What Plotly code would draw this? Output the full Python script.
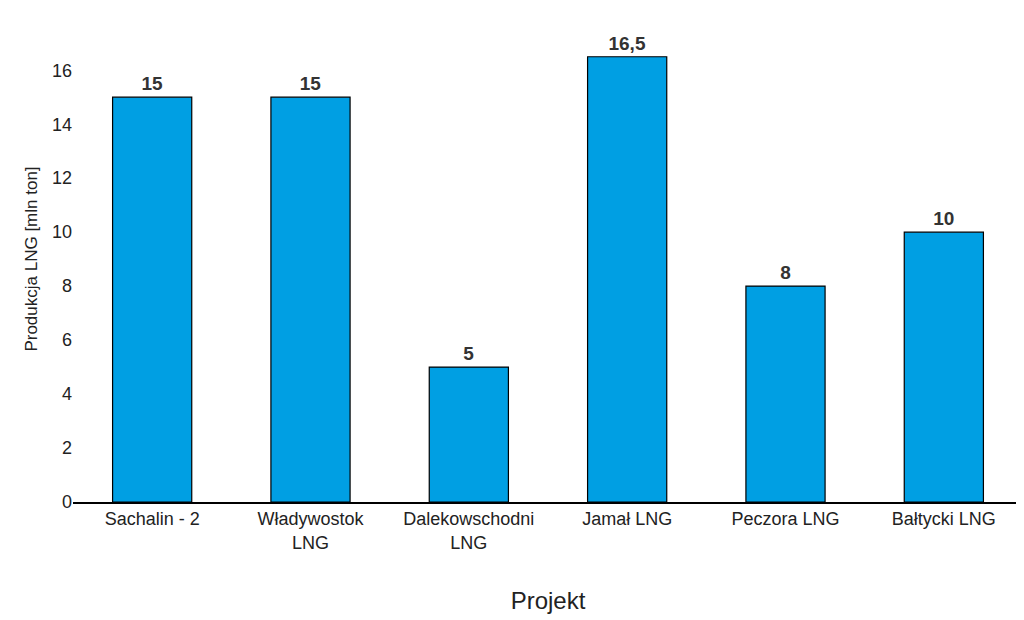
import plotly.graph_objects as go

projects = ["Sachalin - 2", "Władywostok<br>LNG", "Dalekowschodni<br>LNG", "Jamał LNG", "Peczora LNG", "Bałtycki LNG"]
production = [15, 15, 5, 16.5, 8, 10]
labels = ["15", "15", "5", "16,5", "8", "10"]
y_ticks = [0, 2, 4, 6, 8, 10, 12, 14, 16, 18]

fig = go.Figure(
    go.Bar(
        x=projects,
        y=production,
        text=labels,
        textposition="outside",
        textfont={"size": 19, "color": "#333333", "family": "Liberation Sans"},
        texttemplate="<b>%{text}</b>",
        marker={"color": "#009fe3", "line": {"color": "#000000", "width": 1.2}},
        width=0.5,
        cliponaxis=False,
    )
)

fig.update_layout(
    template="simple_white",
    width=1016,
    height=612,
    margin={"l": 65, "r": 1, "t": 8, "b": 118},
    font={"family": "Liberation Sans", "size": 18, "color": "#222222"},
    showlegend=False,
    xaxis={
        "title": {"text": "Projekt", "font": {"size": 24}, "standoff": 40},
        "showline": True,
        "linecolor": "#000000",
        "linewidth": 1.5,
        "ticks": "",
    },
    yaxis={
        "title": {"text": "Produkcja LNG [mln ton]", "font": {"size": 17}, "standoff": 10},
        "range": [0, 18.01],
        "tickvals": y_ticks,
        "showline": False,
        "ticks": "",
        "showgrid": False,
        "zeroline": False,
    },
)

fig.write_html("out.html")
